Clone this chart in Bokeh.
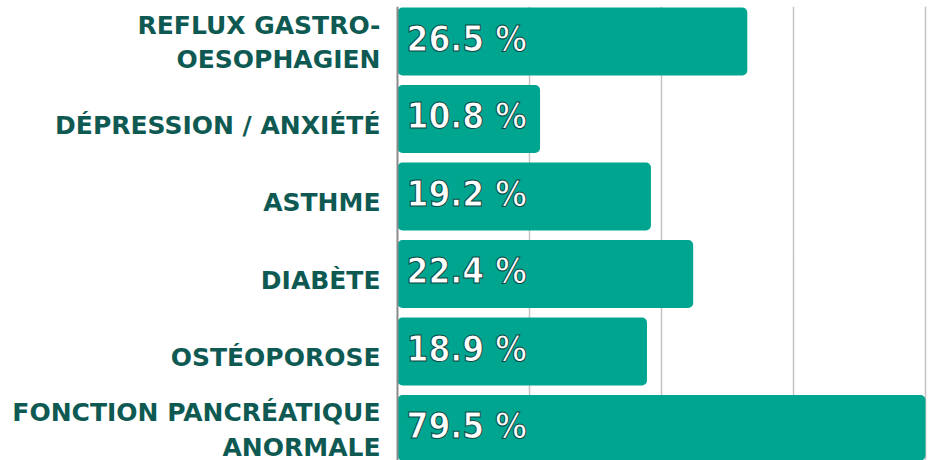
import numpy as np
from bokeh.plotting import figure
from bokeh.models import Range1d, ColumnDataSource, Span, FixedTicker, CDSView, BooleanFilter
from bokeh.core.properties import value
from bokeh.embed import file_html
from bokeh.resources import INLINE

categories = [
    "REFLUX GASTRO-\nOESOPHAGIEN",
    "DÉPRESSION / ANXIÉTÉ",
    "ASTHME",
    "DIABÈTE",
    "OSTÉOPOROSE",
    "FONCTION PANCRÉATIQUE\nANORMALE",
]
values = [26.5, 10.8, 19.2, 22.4, 18.9, 79.5]
value_labels = ["26.5 %", "10.8 %", "19.2 %", "22.4 %", "18.9 %", "79.5 %"]
grid_ticks = [10, 20, 30, 40]

X_MAX = 40.455
X_MIN = -30.076

ypos = np.arange(len(categories))
bar_right = np.minimum(np.array(values), 40.0)
multi = [("\n" in c) for c in categories]

src = ColumnDataSource(dict(y=ypos, right=bar_right, cat=categories,
                            lab=value_labels, zero=np.zeros(len(values))))

p = figure(width=931, height=460, output_backend="svg", toolbar_location=None,
           x_range=Range1d(X_MIN, X_MAX), y_range=Range1d(5.406, -0.4516),
           min_border_left=0, min_border_right=0, min_border_bottom=0,
           min_border_top=6)
p.xaxis.visible = False
p.yaxis.visible = False
p.outline_line_color = None
p.background_fill_color = "white"
p.ygrid.grid_line_color = None
p.xgrid.ticker = FixedTicker(ticks=grid_ticks)
p.xgrid.grid_line_color = "#c4c4c4"
p.xgrid.grid_line_width = 1.5

p.add_layout(Span(location=0, dimension="height", line_color="#8a8a8a", line_width=2))

p.hbar(y="y", left="zero", right="right", height=0.877, source=src,
       fill_color="#00a590", line_color=None, border_radius=5)

label_style = dict(text_align="right", text_baseline="middle",
                   text_font=value("DejaVu Sans"), text_font_style="bold",
                   text_font_size="25px", text_color="#0e5a53")

p.text(x="zero", y="y", text="cat", source=src,
       view=CDSView(filter=BooleanFilter([not m for m in multi])),
       x_offset=-17, y_offset=6, **label_style)
p.text(x="zero", y="y", text="cat", source=src,
       view=CDSView(filter=BooleanFilter(multi)),
       x_offset=-17, y_offset=1, text_line_height=1.2, **label_style)

p.text(x="zero", y="y", text="lab", source=src, x_offset=9, y_offset=-3,
       text_align="left", text_baseline="middle",
       text_font=value("DejaVu Sans Condensed"), text_font_style="bold",
       text_font_size="35px", text_color="white",
       text_outline_color="#0b4a45")

open("out.html", "w").write(file_html(p, INLINE))
